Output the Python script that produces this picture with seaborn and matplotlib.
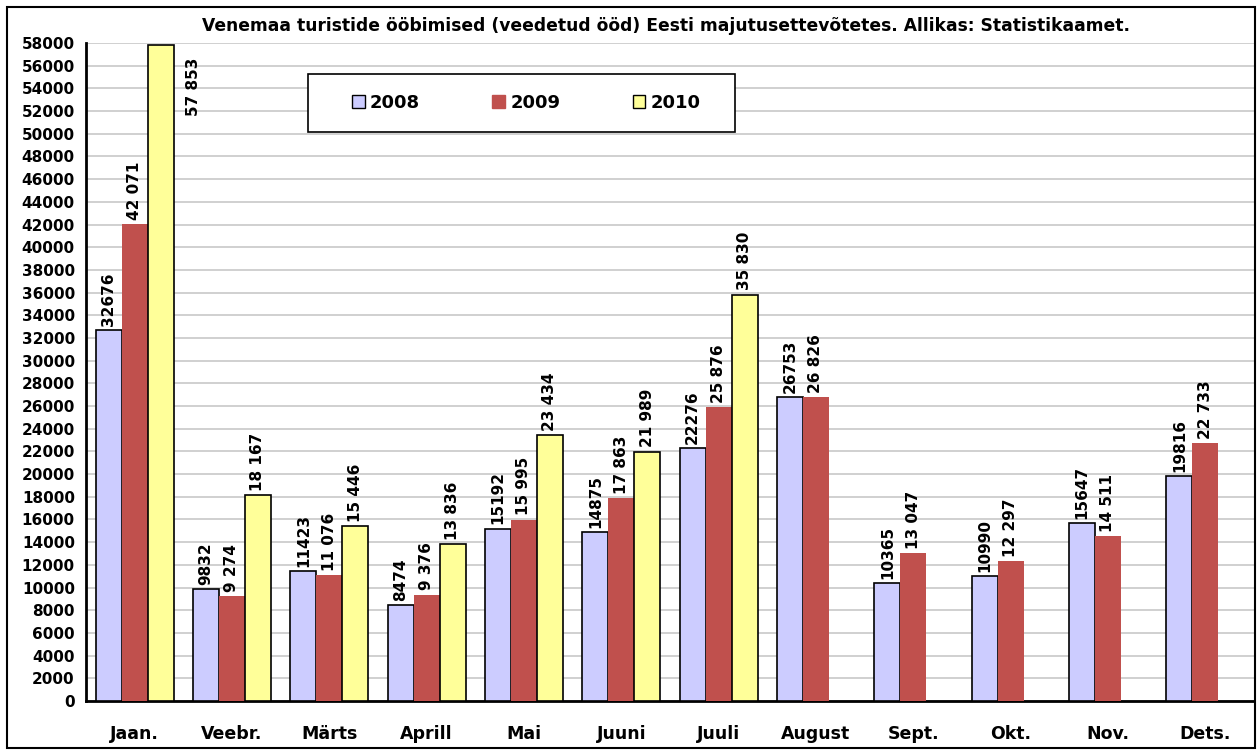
import numpy as np
import pandas as pd
import matplotlib.pyplot as plt
import seaborn as sns
from matplotlib.patches import Rectangle

months = ["Jaan.", "Veebr.", "Märts", "Aprill", "Mai", "Juuni", "Juuli",
          "August", "Sept.", "Okt.", "Nov.", "Dets."]
years = ["2008", "2009", "2010"]
v2008 = [32676, 9832, 11423, 8474, 15192, 14875, 22276, 26753, 10365, 10990, 15647, 19816]
v2009 = [42071, 9274, 11076, 9376, 15995, 17863, 25876, 26826, 13047, 12297, 14511, 22733]
v2010 = [57853, 18167, 15446, 13836, 23434, 21989, 35830,
         np.nan, np.nan, np.nan, np.nan, np.nan]
colors = {"2008": "#CCCCFF", "2009": "#C0504D", "2010": "#FFFF99"}

df = pd.DataFrame({
    "kuu": months * 3,
    "aasta": ["2008"] * 12 + ["2009"] * 12 + ["2010"] * 12,
    "ood": v2008 + v2009 + v2010,
})

sns.set_style("white")
plt.rcParams["font.family"] = ["DejaVu Sans"]
plt.rcParams["font.weight"] = "bold"
plt.rcParams["text.color"] = "black"
plt.rcParams["xtick.color"] = "black"
plt.rcParams["ytick.color"] = "black"
plt.rcParams["axes.labelcolor"] = "black"

fig = plt.figure(figsize=(12.57, 7.51), dpi=100)
ax = fig.add_axes([0.0684, 0.0666, 0.9292, 0.8761])

sns.barplot(data=df, x="kuu", y="ood", hue="aasta", order=months,
            hue_order=years, palette=colors, saturation=1, width=0.8, ax=ax,
            legend=False, zorder=3)

# aarised: 2008 ja 2010 musta äärega, 2009 ilma
for cont, yr in zip(ax.containers, years):
    for p in cont.patches:
        if yr == "2009":
            p.set_edgecolor(colors[yr])
            p.set_linewidth(0)
        else:
            p.set_edgecolor("black")
            p.set_linewidth(1.2)

# väärtuste sildid
for cont, yr in zip(ax.containers, years):
    for p in cont.patches:
        h = p.get_height()
        if np.isnan(h) or h == 0:
            continue
        txt = str(int(h)) if yr == "2008" else f"{int(h):,}".replace(",", " ")
        xc = p.get_x() + p.get_width() / 2
        if h > 55000:
            ax.annotate(txt, (p.get_x() + p.get_width(), h), xytext=(14, -9),
                        textcoords="offset points", rotation=90, ha="center",
                        va="top", fontsize=11, fontweight="bold")
        else:
            ax.annotate(txt, (xc, h), xytext=(0, 3), textcoords="offset points",
                        rotation=90, ha="center", va="bottom", fontsize=11,
                        fontweight="bold")

ax.set_ylim(0, 58000)
ax.set_xlim(-0.5, 11.5)
ax.set_yticks(np.arange(0, 58001, 2000))
ax.set_yticklabels([str(v) for v in range(0, 58001, 2000)], fontsize=11, fontweight="bold")
ax.set_xticks(range(12))
ax.set_xticklabels(months, fontsize=12.5, fontweight="bold")
ax.set_xticks(np.arange(-0.5, 12, 1), minor=True)
ax.tick_params(axis="x", which="major", length=0, pad=17)
ax.tick_params(axis="x", which="minor", length=6, width=1.5, color="black", direction="out")
ax.tick_params(axis="y", length=5, width=1.5, color="black", direction="out", pad=3)
ax.yaxis.grid(True, color="#C8C8C8", linewidth=1.2, zorder=0)
ax.set_axisbelow(True)
ax.set_xlabel("")
ax.set_ylabel("")
for s in ["top", "right"]:
    ax.spines[s].set_visible(False)
for s in ["left", "bottom"]:
    ax.spines[s].set_color("black")
    ax.spines[s].set_linewidth(2)

# legendi kast
ax.add_patch(Rectangle((0.19, 0.865), 0.366, 0.088, transform=ax.transAxes,
                       facecolor="white", edgecolor="black", linewidth=1.2, zorder=4))
handles = [Rectangle((0, 0), 1, 1, facecolor=colors[y],
                     edgecolor="black" if y != "2009" else colors[y], linewidth=1)
           for y in years]
leg = ax.legend(handles, years, loc="center", bbox_to_anchor=(0.377, 0.909),
                ncol=3, frameon=False, fontsize=13, handlelength=0.7,
                handleheight=0.7, handletextpad=0.3, columnspacing=4.0)
leg.set_zorder(5)

fig.text(0.53, 0.966, "Venemaa turistide ööbimised (veedetud ööd) Eesti majutusettevõtetes. "
         "Allikas: Statistikaamet.", ha="center", va="center", fontsize=12.3,
         fontweight="bold")

fig.patches.append(Rectangle((0.0056, 0.004), 0.9925, 0.987, transform=fig.transFigure,
                             fill=False, edgecolor="black", linewidth=1.5))

plt.savefig("out.png", dpi=100)
